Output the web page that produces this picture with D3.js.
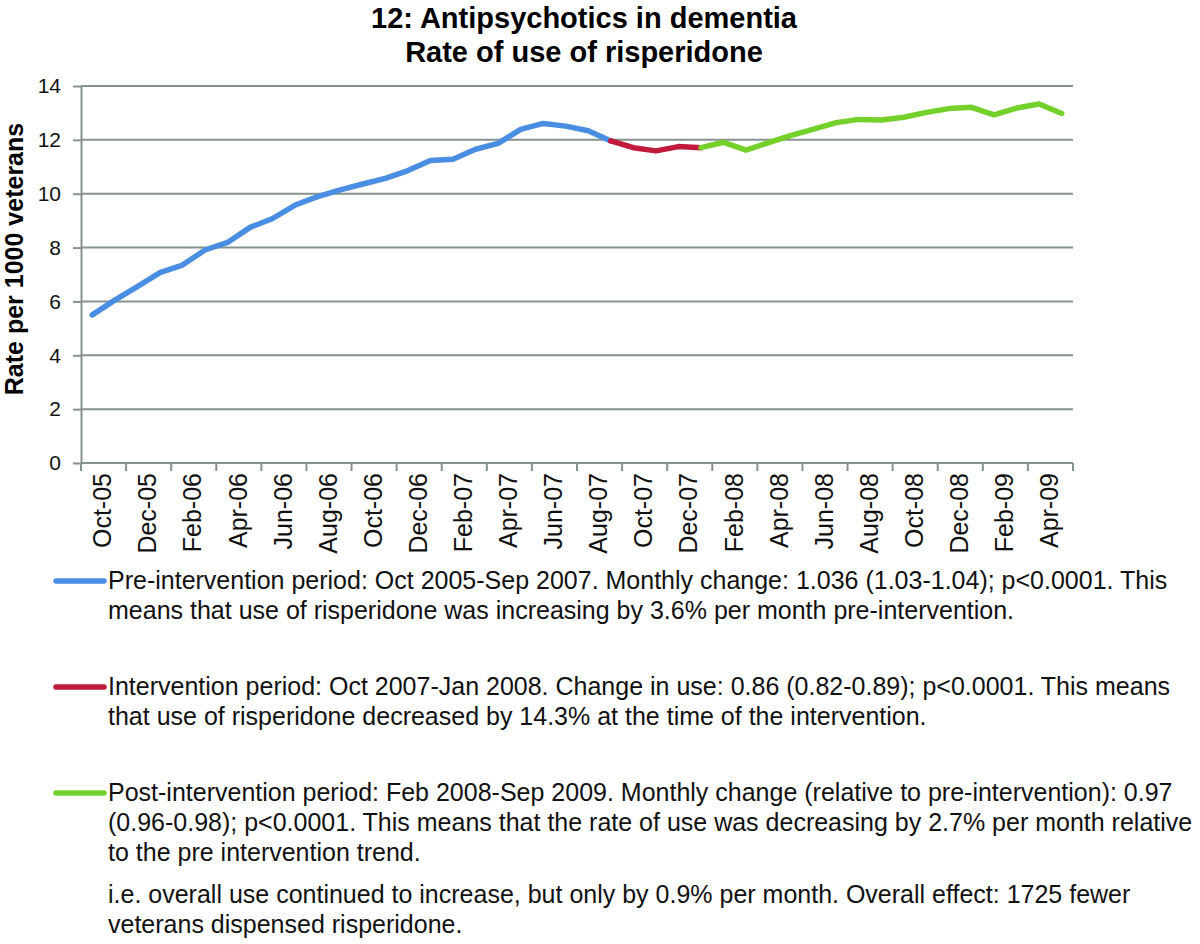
<!DOCTYPE html>
<html>
<head>
<meta charset="utf-8">
<script src="https://cdn.jsdelivr.net/npm/d3@7"></script>
<style>
  body { margin: 0; background: #fff; }
  svg { display: block; font-family: "Liberation Sans", Arial, sans-serif; }
</style>
</head>
<body>
<div id="chart"></div>
<script>
// month categories (one per data point)
var months = ["Oct-05", "Nov-05", "Dec-05", "Jan-06", "Feb-06", "Mar-06", "Apr-06", "May-06",
  "Jun-06", "Jul-06", "Aug-06", "Sep-06", "Oct-06", "Nov-06", "Dec-06", "Jan-07",
  "Feb-07", "Mar-07", "Apr-07", "May-07", "Jun-07", "Jul-07", "Aug-07", "Sep-07",
  "Oct-07", "Nov-07", "Dec-07", "Jan-08", "Feb-08", "Mar-08", "Apr-08", "May-08",
  "Jun-08", "Jul-08", "Aug-08", "Sep-08", "Oct-08", "Nov-08", "Dec-08", "Jan-09",
  "Feb-09", "Mar-09", "Apr-09", "May-09"];

// rate per 1000 veterans
var preValues = [5.50, 6.05, 6.55, 7.07, 7.35, 7.91, 8.19, 8.75, 9.08, 9.58, 9.89, 10.14,
  10.36, 10.57, 10.86, 11.23, 11.28, 11.65, 11.87, 12.39, 12.61, 12.51, 12.34, 11.96];
var interValues = [11.71, 11.59, 11.75, 11.71];
var postValues = [11.91, 11.62, 11.90, 12.17, 12.40, 12.64, 12.76, 12.74, 12.84, 13.02,
  13.16, 13.21, 12.93, 13.18, 13.33, 12.98];

var yTicks = [0, 2, 4, 6, 8, 10, 12, 14];

var titleLines = ["12: Antipsychotics in dementia", "Rate of use of risperidone"];
var yLabel = "Rate per 1000 veterans";

var preText = ["Pre-intervention period: Oct 2005-Sep 2007. Monthly change: 1.036 (1.03-1.04); p<0.0001. This",
  "means that use of risperidone was increasing by 3.6% per month pre-intervention."];
var interText = ["Intervention period: Oct 2007-Jan 2008. Change in use: 0.86 (0.82-0.89); p<0.0001. This means",
  "that use of risperidone decreased by 14.3% at the time of the intervention."];
var postText = ["Post-intervention period: Feb 2008-Sep 2009. Monthly change (relative to pre-intervention): 0.97",
  "(0.96-0.98); p<0.0001. This means that the rate of use was decreasing by 2.7% per month relative",
  "to the pre intervention trend."];
var noteText = ["i.e. overall use continued to increase, but only by 0.9% per month. Overall effect: 1725 fewer",
  "veterans dispensed risperidone."];

var W = 1200, H = 944;
var plot = { left: 81, right: 1073, top: 86, bottom: 463 };
var gridColor = "#869191";

var svg = d3.select("#chart").append("svg")
  .attr("width", W)
  .attr("height", H);

var x = d3.scaleBand().domain(months).range([plot.left, plot.right]);
var y = d3.scaleLinear().domain([0, 14]).range([plot.bottom, plot.top]);
var bw = x.bandwidth();

// title
svg.selectAll(".title")
  .data(titleLines)
  .enter()
  .append("text")
  .attr("class", "title")
  .attr("x", 584)
  .attr("y", function (d, i) { return 28 + i * 34; })
  .attr("text-anchor", "middle")
  .style("font-weight", "bold")
  .style("font-size", "29px")
  .text(function (d) { return d; });

// gridlines
svg.append("g")
  .selectAll("line")
  .data(yTicks.slice(1))
  .enter()
  .append("line")
  .attr("x1", plot.left)
  .attr("x2", plot.right)
  .attr("y1", function (d) { return y(d); })
  .attr("y2", function (d) { return y(d); })
  .style("stroke", gridColor)
  .style("stroke-width", 2);

// y axis
var yAxis = svg.append("g")
  .attr("transform", "translate(" + plot.left + ",0)")
  .call(d3.axisLeft(y).tickValues(yTicks).tickSizeInner(8).tickSizeOuter(0).tickPadding(12));
yAxis.select(".domain").style("stroke", gridColor).style("stroke-width", 2);
yAxis.selectAll(".tick line").style("stroke", gridColor).style("stroke-width", 2);
yAxis.selectAll(".tick text")
  .style("font-size", "21px")
  .style("font-family", "Liberation Sans, Arial, sans-serif")
  .style("fill", "#111");

svg.append("text")
  .attr("transform", "translate(14,259) rotate(-90)")
  .attr("text-anchor", "middle")
  .attr("dy", "0.35em")
  .style("font-weight", "bold")
  .style("font-size", "25px")
  .text(yLabel);

// x axis: line, ticks every 2 months, labels between ticks
svg.append("line")
  .attr("x1", plot.left)
  .attr("x2", plot.right)
  .attr("y1", plot.bottom)
  .attr("y2", plot.bottom)
  .style("stroke", gridColor)
  .style("stroke-width", 2);

var tickPos = months.filter(function (d, i) { return i % 2 === 0; })
  .map(function (d) { return x(d); })
  .concat([plot.right]);

svg.append("g")
  .selectAll("line")
  .data(tickPos)
  .enter()
  .append("line")
  .attr("x1", function (d) { return d; })
  .attr("x2", function (d) { return d; })
  .attr("y1", plot.bottom)
  .attr("y2", plot.bottom + 8)
  .style("stroke", gridColor)
  .style("stroke-width", 2);

svg.append("g")
  .selectAll("text")
  .data(months.filter(function (d, i) { return i % 2 === 0; }))
  .enter()
  .append("text")
  .attr("transform", function (d) {
    return "translate(" + (x(d) + bw - 1) + "," + (plot.bottom + 10) + ") rotate(-90)";
  })
  .attr("text-anchor", "end")
  .attr("dy", "0.35em")
  .style("font-size", "25px")
  .style("fill", "#111")
  .text(function (d) { return d; });

// the three segments, each joined to the last point of the one before
var allValues = preValues.concat(interValues, postValues);
var points = months.map(function (m, i) { return [m, allValues[i]]; });
var segments = [
  { color: "#4a8ee3", pts: points.slice(0, preValues.length) },
  { color: "#c21a3c", pts: points.slice(preValues.length - 1, preValues.length + interValues.length) },
  { color: "#74d12b", pts: points.slice(preValues.length + interValues.length - 1) }
];

var line = d3.line()
  .x(function (d) { return x(d[0]) + bw / 2; })
  .y(function (d) { return y(d[1]); });

svg.append("g")
  .selectAll("path")
  .data(segments)
  .enter()
  .append("path")
  .attr("d", function (d) { return line(d.pts); })
  .style("fill", "none")
  .style("stroke", function (d) { return d.color; })
  .style("stroke-width", 5.5)
  .style("stroke-linejoin", "round")
  .style("stroke-linecap", "round");

// legend with notes
var legend = [
  { color: "#4a8ee3", y: 589, lines: preText },
  { color: "#c21a3c", y: 695, lines: interText },
  { color: "#74d12b", y: 801, lines: postText },
  { color: null, y: 903, lines: noteText }
];

legend.forEach(function (item) {
  if (item.color) {
    svg.append("line")
      .attr("x1", 56)
      .attr("x2", 104)
      .attr("y1", item.y - 8)
      .attr("y2", item.y - 8)
      .style("stroke", item.color)
      .style("stroke-width", 5.5)
      .style("stroke-linecap", "round");
  }
  svg.append("g")
    .selectAll("text")
    .data(item.lines)
    .enter()
    .append("text")
    .attr("x", 108)
    .attr("y", function (d, i) { return item.y + i * 30; })
    .style("font-size", "25px")
    .style("fill", "#111")
    .text(function (d) { return d; });
});
</script>
</body>
</html>
